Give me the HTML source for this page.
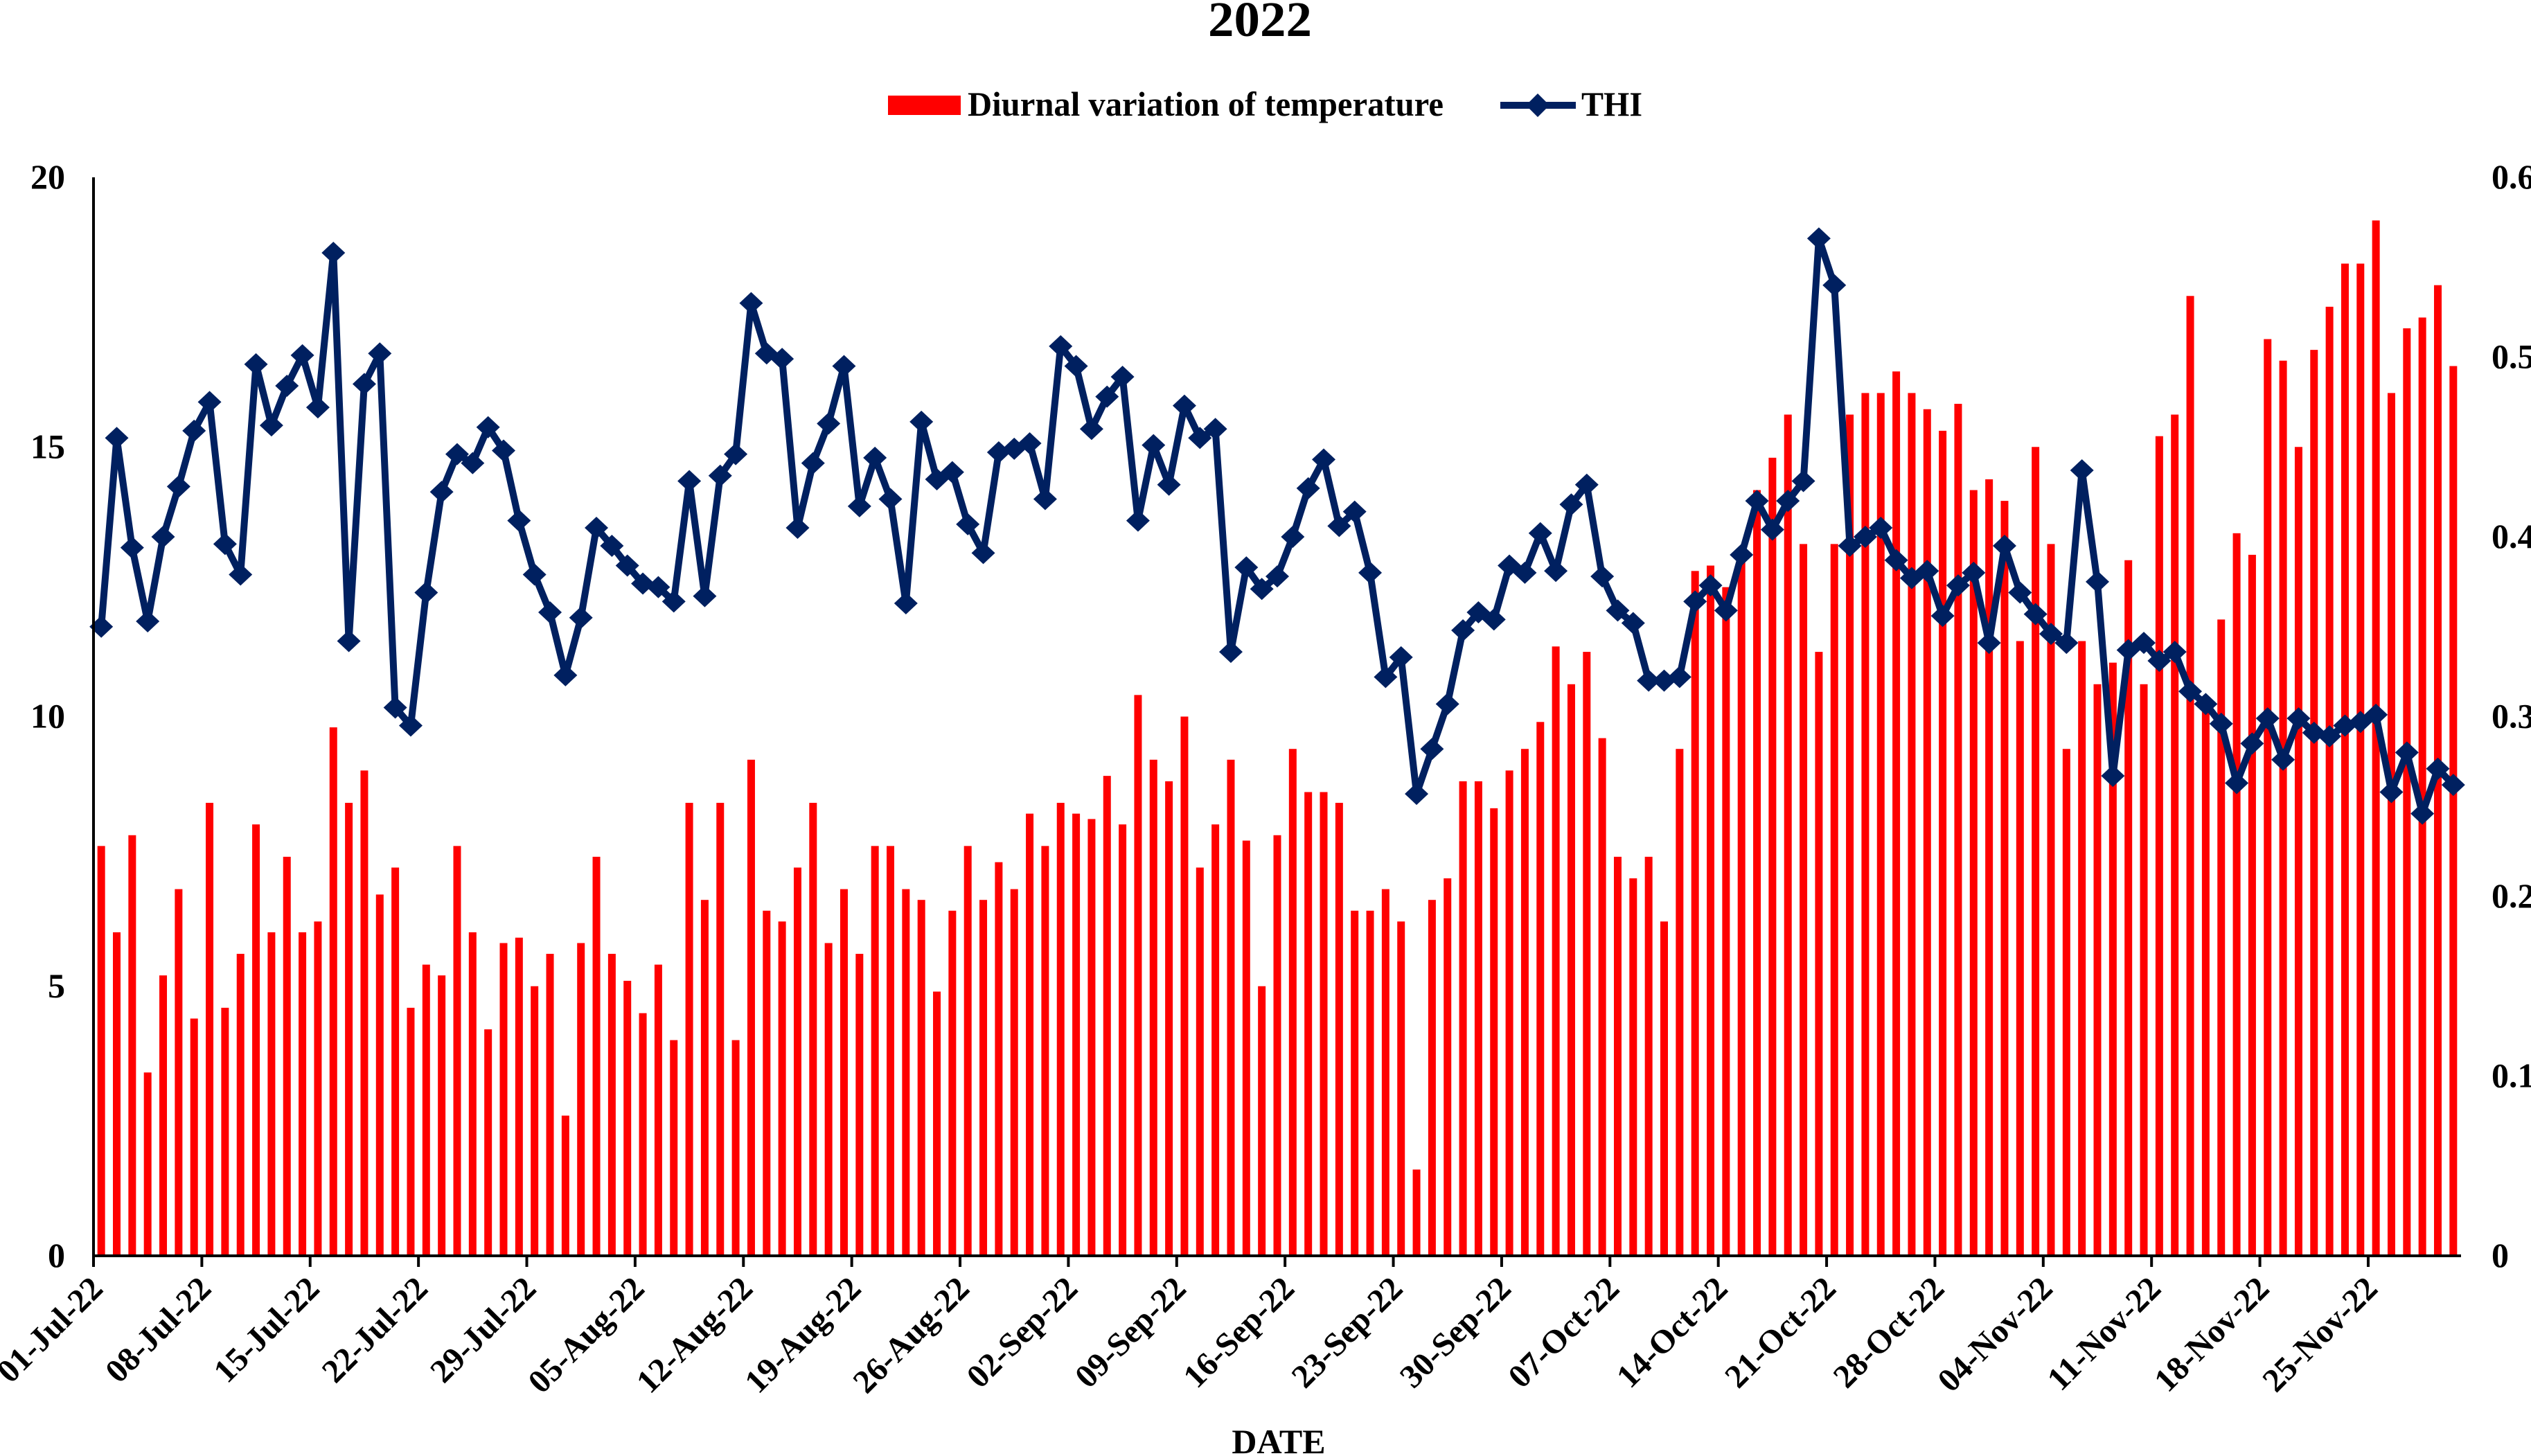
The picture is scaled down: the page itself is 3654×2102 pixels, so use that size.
<!DOCTYPE html>
<html><head><meta charset="utf-8"><style>
html,body{margin:0;padding:0;background:#fff;}
svg{display:block;font-family:"Liberation Serif",serif;font-weight:bold;}
</style></head><body>
<svg id="chart" xmlns="http://www.w3.org/2000/svg" width="3654" height="2102" viewBox="0 0 3654 2102">
<text x="1819" y="52" text-anchor="middle" font-size="72" textLength="150" lengthAdjust="spacingAndGlyphs">2022</text>
<g>
  <rect x="1282" y="138" width="105" height="28" fill="#ff0000"/>
  <text x="1397" y="167" font-size="50" textLength="687" lengthAdjust="spacingAndGlyphs">Diurnal variation of temperature</text>
  <line x1="2166" y1="152" x2="2275" y2="152" stroke="#002060" stroke-width="10"/>
  <polygon points="2220,135 2237,152 2220,169 2203,152" fill="#002060"/>
  <text x="2283" y="167" font-size="50" textLength="88" lengthAdjust="spacingAndGlyphs">THI</text>
</g>
<g id="bars"></g>
<g id="line"></g>
<g id="axes"></g>
<text x="1846" y="2098" text-anchor="middle" font-size="50">DATE</text>
</svg>
<script>
const diurnal = [
7.6,6.0,7.8,3.4,5.2,6.8,4.4,8.4,4.6,5.6,8.0,6.0,7.4,6.0,6.2,9.8,8.4,9.0,6.7,7.2,4.6,5.4,5.2,7.6,6.0,4.2,5.8,5.9,5.0,5.6,2.6,
5.8,7.4,5.6,5.1,4.5,5.4,4.0,8.4,6.6,8.4,4.0,9.2,6.4,6.2,7.2,8.4,5.8,6.8,5.6,7.6,7.6,6.8,6.6,4.9,6.4,7.6,6.6,7.3,6.8,8.2,7.6,
8.4,8.2,8.1,8.9,8.0,10.4,9.2,8.8,10.0,7.2,8.0,9.2,7.7,5.0,7.8,9.4,8.6,8.6,8.4,6.4,6.4,6.8,6.2,1.6,6.6,7.0,8.8,8.8,8.3,9.0,
9.4,9.9,11.3,10.6,11.2,9.6,7.4,7.0,7.4,6.2,9.4,12.7,12.8,12.4,13.0,14.2,14.8,15.6,13.2,11.2,13.2,15.6,16.0,16.0,16.4,16.0,15.7,15.3,15.8,14.2,14.4,
14.0,11.4,15.0,13.2,9.4,11.4,10.6,11.0,12.9,10.6,15.2,15.6,17.8,10.3,11.8,13.4,13.0,17.0,16.6,15.0,16.8,17.6,18.4,18.4,19.2,16.0,17.2,17.4,18.0,16.5];
const thi = [
0.350,0.455,0.394,0.353,0.400,0.428,0.459,0.475,0.396,0.379,0.496,0.462,0.484,0.501,0.472,0.558,0.342,0.485,0.502,0.305,0.295,0.369,0.425,0.446,0.441,0.461,0.448,0.409,0.379,0.358,0.323,
0.355,0.405,0.395,0.384,0.374,0.372,0.364,0.431,0.367,0.434,0.446,0.530,0.502,0.499,0.405,0.441,0.463,0.495,0.417,0.444,0.421,0.363,0.464,0.432,0.436,0.407,0.391,0.447,0.449,0.452,0.421,
0.506,0.495,0.460,0.478,0.489,0.409,0.451,0.429,0.473,0.455,0.460,0.336,0.383,0.371,0.378,0.400,0.427,0.443,0.406,0.414,0.380,0.322,0.333,0.257,0.282,0.307,0.348,0.358,0.354,0.384,
0.380,0.402,0.381,0.418,0.429,0.378,0.359,0.352,0.320,0.320,0.322,0.364,0.373,0.359,0.390,0.420,0.404,0.420,0.431,0.566,0.540,0.395,0.400,0.405,0.387,0.377,0.381,0.356,0.373,0.380,0.341,
0.395,0.369,0.357,0.346,0.341,0.437,0.375,0.267,0.337,0.341,0.331,0.336,0.314,0.307,0.296,0.263,0.285,0.299,0.276,0.299,0.291,0.289,0.295,0.297,0.301,0.258,0.280,0.246,0.271,0.262];
const xTickLabels = ["01-Jul-22","08-Jul-22","15-Jul-22","22-Jul-22","29-Jul-22","05-Aug-22","12-Aug-22","19-Aug-22","26-Aug-22","02-Sep-22","09-Sep-22","16-Sep-22","23-Sep-22","30-Sep-22","07-Oct-22","14-Oct-22","21-Oct-22","28-Oct-22","04-Nov-22","11-Nov-22","18-Nov-22","25-Nov-22"];
const leftTicks = [0,5,10,15,20];
const rightTicks = [0,0.1,0.2,0.3,0.4,0.5,0.6];

const NS = "http://www.w3.org/2000/svg";
const X0 = 135, X1 = 3553, Y0 = 1813, YT = 256;
const n = diurnal.length;
const step = (X1 - X0) / n;
const xBand = i => X0 + step * i;
const xC = i => X0 + step * (i + 0.5);
const yL = v => Y0 - (v / 20) * (Y0 - YT);
const yR = v => Y0 - (v / 0.6) * (Y0 - YT);
function mk(tag, attrs, parent) {
  const e = document.createElementNS(NS, tag);
  for (const k in attrs) e.setAttribute(k, attrs[k]);
  parent.appendChild(e);
  return e;
}
const gb = document.getElementById('bars');
diurnal.forEach((v, i) => {
  const r = mk('rect', {x: xC(i) - 5.5, y: yL(v), width: 11, height: Y0 - yL(v), fill: '#ff0000'}, gb);
  
  
});
const gl = document.getElementById('line');
const pts = thi.map((v, i) => xC(i).toFixed(1) + ',' + yR(v).toFixed(1)).join(' ');
const pl = mk('polyline', {points: pts, fill: 'none', stroke: '#002060', 'stroke-width': 10, 'stroke-linejoin': 'round'}, gl);


thi.forEach((v, i) => {
  const x = xC(i), y = yR(v);
  const d = mk('polygon', {points: `${x},${y-16} ${x+17},${y} ${x},${y+16} ${x-17},${y}`, fill: '#002060'}, gl);
  
  
});
const ga = document.getElementById('axes');
const ya = mk('line', {x1: X0, y1: YT, x2: X0, y2: Y0 + 2, stroke: '#000', 'stroke-width': 4}, ga);


const xa = mk('line', {x1: X0 - 2, y1: Y0, x2: X1, y2: Y0, stroke: '#000', 'stroke-width': 4}, ga);


leftTicks.forEach(v => {
  const t = mk('text', {x: 94, y: yL(v) + 16, 'text-anchor': 'end', 'font-size': 50}, ga);
  t.textContent = String(v);
  
  
});
rightTicks.forEach(v => {
  const t = mk('text', {x: 3597, y: yR(v) + 16, 'font-size': 50}, ga);
  t.textContent = v === 0 ? '0' : v.toFixed(1);
  
  
});
xTickLabels.forEach((lab, k) => {
  const x = xBand(k * 7);
  const tk = mk('line', {x1: x, y1: Y0, x2: x, y2: Y0 + 16, stroke: '#000', 'stroke-width': 4}, ga);
  
  
  const t = mk('text', {x: 0, y: 0, 'text-anchor': 'end', 'font-size': 48, transform: `translate(${x + 16},${Y0 + 50}) rotate(-45)`}, ga);
  t.textContent = lab;
  
  
});
</script>
</body></html>
